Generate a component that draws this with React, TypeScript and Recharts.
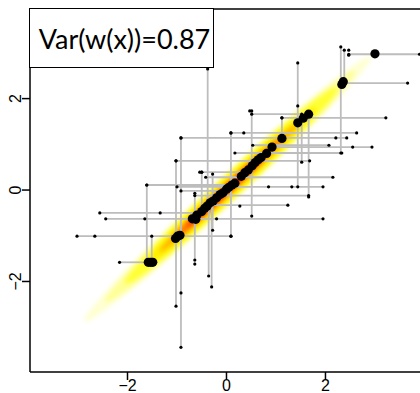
import { ComposedChart, Scatter, XAxis, YAxis, ReferenceLine } from 'recharts';

const X_DOMAIN = [-3.97, 3.91];
const Y_DOMAIN = [-3.98, 3.96];
const TICKS = [-2, 0, 2];
const TITLE = 'Var(w(x))=0.87';

// density levels along the y = x diagonal: [from, to], outermost first
const DENSITY_FROM = [-2.87, -2.45, -2.05, -1.65, -1.35, -1.1, -0.8];
const DENSITY_TO = [2.92, 2.6, 2.25, 1.8, 1.45, 1.1, 0.8];
const DENSITY_COLORS = ['#ffffd2', '#ffff96', '#ffff30', '#ffee00', '#ffb400', '#ff7000', '#ff1a00'];
const DENSITY_WIDTHS = [25, 23, 21, 18, 12, 8, 5];

// large points (x, y)
const BIG_POINTS: [number, number][] = [
  [-1.58, -1.58], [-1.53, -1.58], [-1.49, -1.58],
  [-1.03, -1.06], [-0.99, -1.01], [-0.94, -0.99],
  [-0.69, -0.63], [-0.62, -0.64], [-0.6, -0.55],
  [-0.5, -0.47], [-0.44, -0.4], [-0.39, -0.35], [-0.33, -0.28], [-0.27, -0.24],
  [-0.2, -0.17], [-0.13, -0.1], [-0.07, -0.06], [0, 0.02], [0.05, 0.06],
  [0.11, 0.11], [0.17, 0.15], [0.3, 0.3], [0.37, 0.38], [0.44, 0.44],
  [0.52, 0.53], [0.58, 0.6], [0.64, 0.66], [0.7, 0.71], [0.81, 0.8],
  [0.92, 0.94], [1.12, 1.13], [1.44, 1.47], [1.55, 1.57], [1.66, 1.66],
  [2.33, 2.31], [2.36, 2.37], [3.0, 2.98],
];

// horizontal links: [y, x from, x to]
const H_LINKS: [number, number, number][] = [
  [2.97, 2.47, 3.9], [2.34, 2.35, 3.66], [1.66, 0.51, 1.66], [1.58, 1.12, 3.22],
  [1.25, 0.09, 2.63], [1.14, -0.92, 2.43], [0.98, 0.53, 2.07], [0.94, 0.92, 2.94],
  [0.81, 0.17, 2.33], [0.64, -1.02, 1.68], [0.39, -0.5, 0.4], [0.28, -0.42, 2.15],
  [0.11, -1.61, 0.11], [0.07, -1.0, 1.95], [-0.02, -0.92, 0.0], [-0.12, -0.64, 1.66],
  [-0.33, -0.44, 1.24], [-0.5, -2.56, -0.48], [-0.63, -2.44, 1.95],
  [-1.01, -3.02, 0.09], [-1.58, -2.16, -1.55],
];

// vertical links: [x, y from, y to]
const V_LINKS: [number, number, number][] = [
  [2.31, 3.13, 0.81], [2.38, 3.06, 2.34], [1.44, 2.78, 0.07], [1.12, 1.58, 1.12],
  [0.51, 1.73, -0.57], [1.52, 1.66, 0.61], [1.66, 1.66, -0.15], [-0.38, 2.65, -0.38],
  [-0.92, 1.14, -3.44], [-1.02, 0.64, -2.54], [-1.61, 0.11, -1.58], [-1.51, -1.01, -1.58],
  [-0.64, -0.07, -1.62], [-0.36, -0.35, -1.88], [-0.3, -0.28, -2.12], [0.09, 1.25, -1.01],
  [-0.28, 0.35, -0.88], [-0.5, 0.39, -0.48],
];

// small points along the links
const SMALL_POINTS: [number, number][] = [
  [2.47, 3.06], [2.47, 2.95], [1.44, 1.84], [2.21, 1.14], [2.55, 0.94], [0.35, 1.25],
  [1.32, 0.07], [0.85, 0.07], [-1.34, -0.5], [-1.65, -0.63], [-0.2, -0.63], [-2.66, -1.01],
  [-0.92, -2.25], [-0.64, -1.53], [0.27, -0.35], [0.47, 1.73], [-0.54, 0.39],
];

const bigData = BIG_POINTS.map(([x, y]) => ({ x, y }));
const smallData = [
  ...SMALL_POINTS,
  ...H_LINKS.flatMap(([y, a, b]) => [[a, y], [b, y]]),
  ...V_LINKS.flatMap(([x, a, b]) => [[x, a], [x, b]]),
].map(([x, y]) => ({ x, y }));

const axisFont = { fill: '#000', fontSize: 16, fontFamily: '"Liberation Sans", Arial, sans-serif' };
const fmt = (v: number) => String(v).replace('-', '\u2212');

function YTick({ x, y, payload }: any) {
  const tx = x + 1.5;
  return (
    <text x={tx} y={y} transform={`rotate(-90 ${tx} ${y})`} textAnchor="middle" {...axisFont}>
      {fmt(payload.value)}
    </text>
  );
}

function densityShape(width: number, color: string) {
  return (p: any) => {
    const cx = (p.x1 + p.x2) / 2;
    const cy = (p.y1 + p.y2) / 2;
    const len = Math.hypot(p.x2 - p.x1, p.y2 - p.y1);
    const ang = (Math.atan2(p.y2 - p.y1, p.x2 - p.x1) * 180) / Math.PI;
    return (
      <ellipse cx={cx} cy={cy} rx={len / 2} ry={width / 2} fill={color}
        transform={`rotate(${ang} ${cx} ${cy})`} style={{ filter: 'blur(2px)' }} />
    );
  };
}

const smallDot = (p: any) => <circle cx={p.cx} cy={p.cy} r={1.6} fill="#000" />;
const bigDot = (p: any) => <circle cx={p.cx} cy={p.cy} r={4.6} fill="#000" />;

export default function App() {
  return (
    <div style={{ position: 'absolute', left: 0, top: 0, width: 420, height: 393, overflow: 'hidden', background: '#fff' }}>
      <ComposedChart width={420} height={393} margin={{ top: 9, right: 0, bottom: 0, left: 0 }}>
        <XAxis type="number" dataKey="x" domain={X_DOMAIN} allowDataOverflow ticks={TICKS} interval={0}
          tickSize={8} tickMargin={0} height={21} tick={axisFont} tickFormatter={fmt}
          axisLine={{ stroke: '#000', strokeWidth: 1.5 }} tickLine={{ stroke: '#000', strokeWidth: 1.5 }} />
        <YAxis type="number" dataKey="y" domain={Y_DOMAIN} allowDataOverflow ticks={TICKS} interval={0}
          tickSize={8} width={30} tick={<YTick />}
          axisLine={{ stroke: '#000', strokeWidth: 1.5 }} tickLine={{ stroke: '#000', strokeWidth: 1.5 }} />
        <ReferenceLine y={Y_DOMAIN[1]} stroke="#000" strokeWidth={1.5} />
        {DENSITY_FROM.map((a, i) => (
          <ReferenceLine key={'d' + i} segment={[{ x: a, y: a }, { x: DENSITY_TO[i], y: DENSITY_TO[i] }]}
            shape={densityShape(DENSITY_WIDTHS[i], DENSITY_COLORS[i])} />
        ))}
        {H_LINKS.map(([y, a, b], i) => (
          <ReferenceLine key={'h' + i} segment={[{ x: a, y }, { x: b, y }]} stroke="#bdbdbd" strokeWidth={1.8} />
        ))}
        {V_LINKS.map(([x, a, b], i) => (
          <ReferenceLine key={'v' + i} segment={[{ x, y: a }, { x, y: b }]} stroke="#bdbdbd" strokeWidth={1.8} />
        ))}
        <Scatter data={smallData} shape={smallDot} isAnimationActive={false} />
        <Scatter data={bigData} shape={bigDot} isAnimationActive={false} />
      </ComposedChart>
      <div style={{
        position: 'absolute', left: 29, top: 8, width: 185, height: 60, boxSizing: 'border-box',
        border: '1.5px solid #000', background: '#fff', display: 'flex', alignItems: 'center',
        justifyContent: 'center', paddingLeft: 6, fontFamily: 'Lato, sans-serif', fontSize: 27, color: '#000',
      }}>
        {TITLE}
      </div>
    </div>
  );
}
